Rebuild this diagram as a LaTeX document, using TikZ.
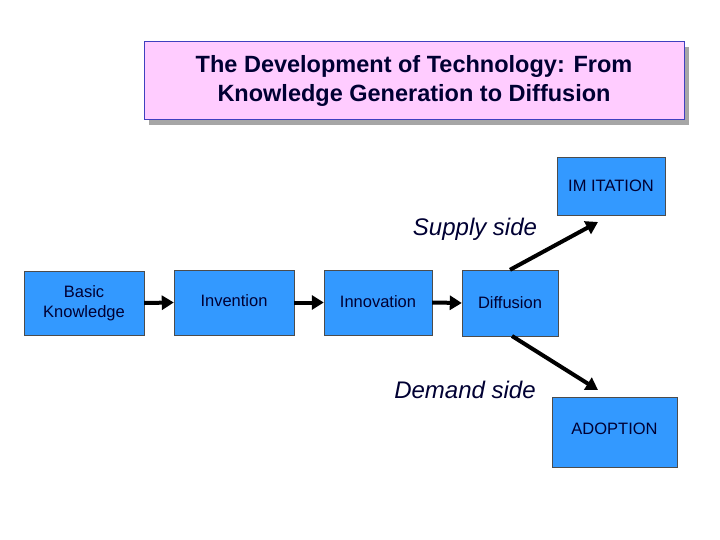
\documentclass[tikz,border=0pt]{standalone}
\usepackage{fontspec}
\setmainfont{Liberation Sans}
\usetikzlibrary{arrows.meta}
\definecolor{bx}{HTML}{3399FF}
\definecolor{tx}{HTML}{000033}
\newcommand{\boxfont}{\fontsize{16.5pt}{20pt}\selectfont}
\newcommand{\titfont}{\fontsize{23.5pt}{29pt}\selectfont\bfseries}
\newcommand{\sidefont}{\fontsize{24pt}{26pt}\selectfont\itshape}
\begin{document}
\begin{tikzpicture}[x=1pt,y=-1pt,
 box/.style={draw=black!70,fill=bx,text=tx,align=center,font=\boxfont,inner sep=0pt},
 arr/.style={-{Triangle[length=12pt,width=14pt]},line width=4pt}]
\useasboundingbox[fill=white] (0,0) rectangle (720,540);
\fill[gray!70] (149,47) rectangle (689,125);
\node[draw=blue!50!gray,line width=1pt,fill={rgb,255:red,255;green,204;blue,255},minimum width=540pt,minimum height=78pt,align=center,font=\titfont,text=tx] (title) at (414,81) {The Development of Technology: From\\Knowledge Generation to Diffusion};
\node[box,minimum width=120pt,minimum height=64pt] (bk) at (84,303) {Basic\\Knowledge};
\node[box,minimum width=120pt,minimum height=65pt,anchor=center] (inv) at (234,302.5) {\raisebox{4pt}{Invention}};
\node[box,minimum width=108pt,minimum height=65pt] (inn) at (378,302.5) {\raisebox{2pt}{Innovation}};
\node[box,minimum width=96pt,minimum height=66pt] (dif) at (510,303) {\raisebox{-3pt}{Diffusion}};
\node[box,minimum width=108pt,minimum height=58pt] (imi) at (611,186) {IM ITATION};
\node[box,minimum width=125pt,minimum height=70pt] (ado) at (614.5,432) {\raisebox{6pt}{ADOPTION}};
\node[font=\sidefont,text=tx] (sup) at (475,229) {Supply side};
\node[font=\sidefont,text=tx] (dem) at (465,390) {Demand side};
\draw[arr] (bk.east) -- (inv.west);
\draw[arr] (inv.east) -- (inn.west);
\draw[arr] (inn.east) -- (dif.west);
\coordinate (t1) at (598,222);
\coordinate (t2) at (598,390);
\draw[arr] (dif.north) -- (t1);
\draw[arr] (512,336) -- (t2);
\end{tikzpicture}
\end{document}
